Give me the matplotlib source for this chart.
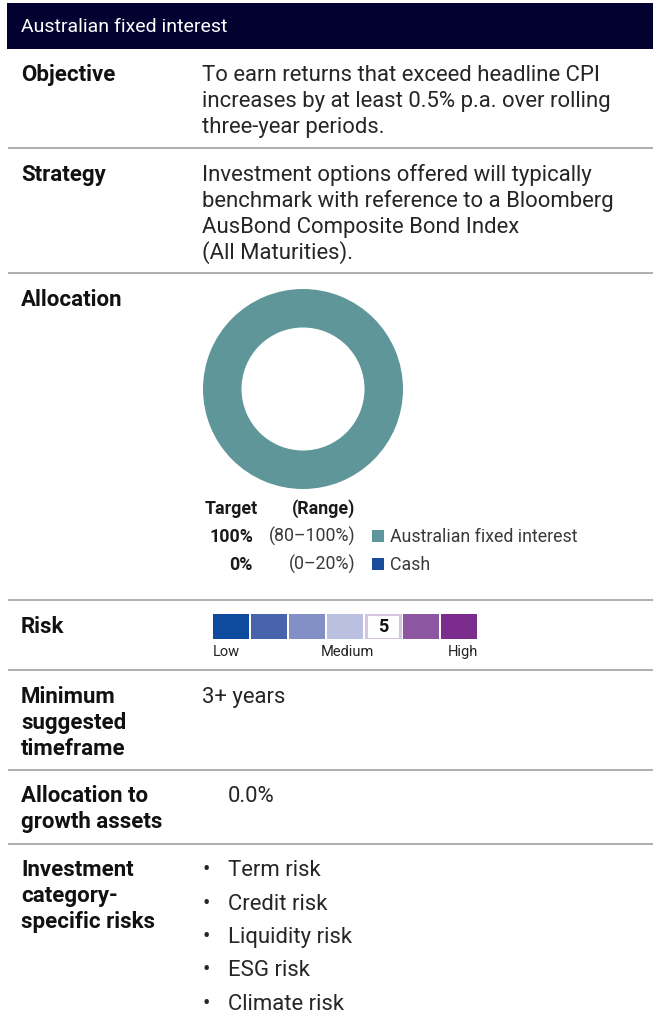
import matplotlib.pyplot as plt
from matplotlib.patches import Rectangle

plt.rcParams['font.family'] = ['Roboto', 'DejaVu Sans']

W, H = 653, 1023

title = "Australian fixed interest"

row_labels = [["Objective"], ["Strategy"], ["Allocation"], ["Risk"],
              ["Minimum", "suggested", "timeframe"], ["Allocation to", "growth assets"],
              ["Investment", "category-", "specific risks"]]

objective_lines = ["To earn returns that exceed headline CPI",
                   "increases by at least 0.5% p.a. over rolling",
                   "three-year periods."]
strategy_lines = ["Investment options offered will typically",
                  "benchmark with reference to a Bloomberg",
                  "AusBond Composite Bond Index",
                  "(All Maturities)."]

alloc_names = ["Australian fixed interest", "Cash"]
alloc_target = [100, 0]
alloc_range = ["(80\u2013100%)", "(0\u201320%)"]
alloc_colors = ["#5f9699", "#1a4c9c"]

risk_levels = [1, 2, 3, 4, 5, 6, 7]
risk_colors = ["#0e4a9e", "#4763ab", "#8390c6", "#bcc0e0", "#ffffff", "#8c57a0", "#7b2c8d"]
risk_band = 5
risk_ticks = ["Low", "Medium", "High"]

timeframe = "3+ years"
growth_alloc = "0.0%"
specific_risks = ["Term risk", "Credit risk", "Liquidity risk", "ESG risk", "Climate risk"]

fig = plt.figure(figsize=(W / 100, H / 100), dpi=100)
ax = fig.add_axes([0, 0, 1, 1])
ax.set_xlim(0, W)
ax.set_ylim(H, 0)
ax.axis('off')

# header bar
ax.add_patch(Rectangle((7, 3), W - 7, 46, color="#02012f", lw=0))
ax.text(21, 32, title, color="white", fontsize=14, va='baseline')

# row separators
for y in [148, 273, 600, 670, 770, 844]:
    ax.plot([8, W], [y, y], color="#a8a8a8", lw=1.3, solid_capstyle='butt')

label_y = [81, 181, 306, 633, 703, 802, 876]
for lines, y0 in zip(row_labels, label_y):
    for i, lab in enumerate(lines):
        ax.text(21, y0 + i * 26, lab, fontsize=16, fontweight='bold', color="#111111",
                va='baseline')

body = dict(fontsize=15.9, fontweight='normal', color="#262626", va='baseline')
for i, line in enumerate(objective_lines):
    ax.text(202, 81 + i * 26, line, **body)
for i, line in enumerate(strategy_lines):
    ax.text(202, 181 + i * 26, line, **body)
ax.text(202, 703, timeframe, **body)
ax.text(228, 802, growth_alloc, **body)
for i, r in enumerate(specific_risks):
    y = 876 + i * 33.5
    ax.text(203, y, "\u2022", **body)
    ax.text(228, y, r, **body)

# donut
dax = fig.add_axes([203 / W, 1 - 489 / H, 200 / W, 200 / H])
dax.pie(alloc_target, colors=alloc_colors, startangle=90, counterclock=False,
        wedgeprops=dict(width=0.385, linewidth=0))
dax.set_xlim(-1, 1)
dax.set_ylim(-1, 1)
dax.set_aspect('equal')
dax.axis('off')

# allocation legend
leg = dict(fontsize=12.8, color="#3a3a3a", va='baseline')
ax.text(205, 514, "Target", fontsize=12.8, fontweight='bold', color="#1a1a1a", va='baseline')
ax.text(355, 514, "(Range)", fontsize=12.8, fontweight='bold', color="#1a1a1a",
        va='baseline', ha='right')
for i, (name, tgt, rng, col) in enumerate(zip(alloc_names, alloc_target, alloc_range, alloc_colors)):
    y = 542 + i * 28
    ax.text(253, y, f"{tgt}%", fontsize=12.8, fontweight='bold', color="#1a1a1a",
            va='baseline', ha='right')
    ax.text(355, y, rng, ha='right', **leg)
    ax.add_patch(Rectangle((372, y - 12), 12, 12, color=col, lw=0))
    ax.text(390, y, name, **leg)

# risk scale
rax = fig.add_axes([212 / W, 1 - 639 / H, 266 / W, 25 / H])
for lvl, col in zip(risk_levels, risk_colors):
    if lvl == risk_band:
        rax.bar(lvl, 1, width=0.9, color=col, edgecolor="#d6c6e4", linewidth=2.2)
        rax.text(lvl, 0.5, str(lvl), ha='center', va='center', fontsize=13,
                 fontweight='bold', color="#111111")
    else:
        rax.bar(lvl, 1, width=0.96, color=col, linewidth=0)
rax.set_xlim(0.5, 7.5)
rax.set_ylim(0, 1)
rax.axis('off')

tick = dict(fontsize=10.5, color="#222222", va='baseline')
ax.text(213, 656, risk_ticks[0], ha='left', **tick)
ax.text(347, 656, risk_ticks[1], ha='center', **tick)
ax.text(478, 656, risk_ticks[2], ha='right', **tick)

fig.savefig("out.png", dpi=100)
